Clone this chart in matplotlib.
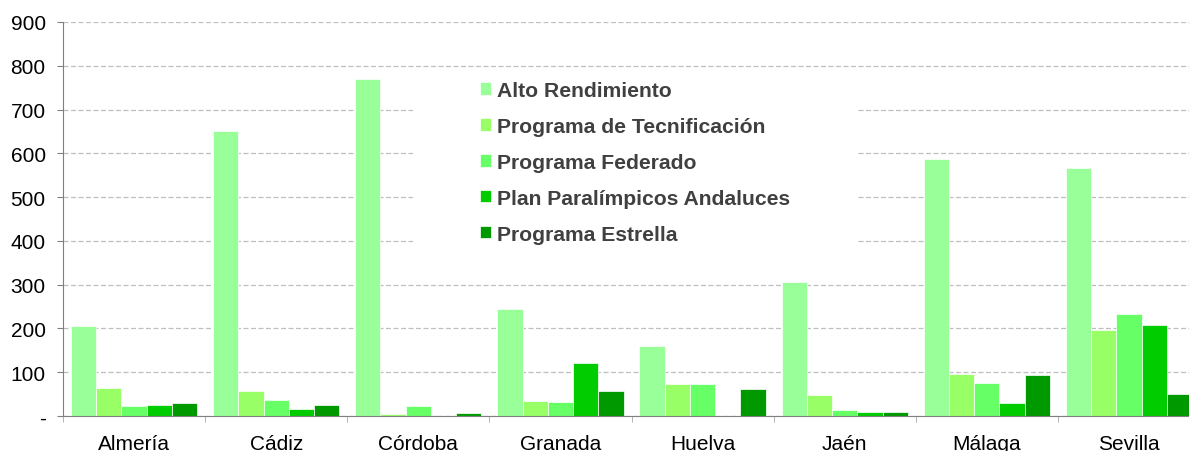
import matplotlib
matplotlib.use("Agg")
import matplotlib.pyplot as plt
from matplotlib.patches import Rectangle
import numpy as np

provincias = ["Almería", "Cádiz", "Córdoba", "Granada", "Huelva", "Jaén", "Málaga", "Sevilla"]
series = [
    "Alto Rendimiento",
    "Programa de Tecnificación",
    "Programa Federado",
    "Plan Paralímpicos Andaluces",
    "Programa Estrella",
]
alto_rendimiento = [205, 650, 769, 244, 160, 305, 587, 566]
tecnificacion = [64, 58, 4, 34, 74, 49, 96, 196]
federado = [23, 36, 23, 33, 74, 13, 75, 232]
paralimpicos = [24, 15, 0, 121, 0, 8, 30, 208]
estrella = [29, 24, 7, 56, 62, 10, 94, 50]
yticks = [0, 100, 200, 300, 400, 500, 600, 700, 800, 900]
ytick_labels = ["-", "100", "200", "300", "400", "500", "600", "700", "800", "900"]

colors = ["#99FF99", "#99FF66", "#66FF66", "#00CC00", "#009900"]

plt.rcParams["font.family"] = ["Liberation Sans", "DejaVu Sans"]

fig = plt.figure(figsize=(11.89, 4.52), dpi=100)
# axis runs slightly past the right edge, like the original
ax = fig.add_axes([63 / 1189, 35 / 452, 1137 / 1189, 394 / 452])

data = [alto_rendimiento, tecnificacion, federado, paralimpicos, estrella]
x = np.arange(len(provincias))
w = 0.1775
for i, (name, vals, c) in enumerate(zip(series, data, colors)):
    ax.bar(x + (i - 2) * w, vals, width=w, color=c, edgecolor="white",
           linewidth=0.5, label=name, zorder=3)

ax.set_xlim(-0.5, len(provincias) - 0.5)
ax.set_ylim(0, 900)
ax.set_yticks(yticks)
ax.set_yticklabels(ytick_labels)
ax.set_xticks(x)
ax.set_xticklabels(provincias)
ax.set_xticks(np.arange(len(provincias) + 1) - 0.5, minor=True)

ax.tick_params(axis="x", which="major", length=0, pad=13, labelsize=15, labelcolor="black")
ax.tick_params(axis="x", which="minor", length=4.5, color="#A6A6A6", direction="out")
ax.tick_params(axis="y", length=4.5, color="#808080", pad=8, labelsize=15, labelcolor="black")

ax.yaxis.grid(True, linestyle=(0, (4, 2)), color="#BFBFBF", linewidth=0.9, zorder=0)
ax.set_axisbelow(True)
for s in ("top", "right"):
    ax.spines[s].set_visible(False)
ax.spines["left"].set_color("#808080")
ax.spines["bottom"].set_color("#808080")
ax.spines["bottom"].set_zorder(4)

# white legend area hides the gridlines behind it
ax.add_patch(Rectangle((0.3078, 0.388), 0.3897, 0.447, transform=ax.transAxes,
                       facecolor="white", edgecolor="none", zorder=1))

leg = ax.legend(loc="upper left", bbox_to_anchor=(0.3668, 0.85),
                frameon=False, borderpad=0, borderaxespad=0,
                handlelength=0.52, handleheight=0.52,
                handletextpad=0.3, labelspacing=0.8,
                prop={"weight": "bold", "size": 15.2})
for t in leg.get_texts():
    t.set_color("#404040")

fig.savefig("out.png", dpi=100)
